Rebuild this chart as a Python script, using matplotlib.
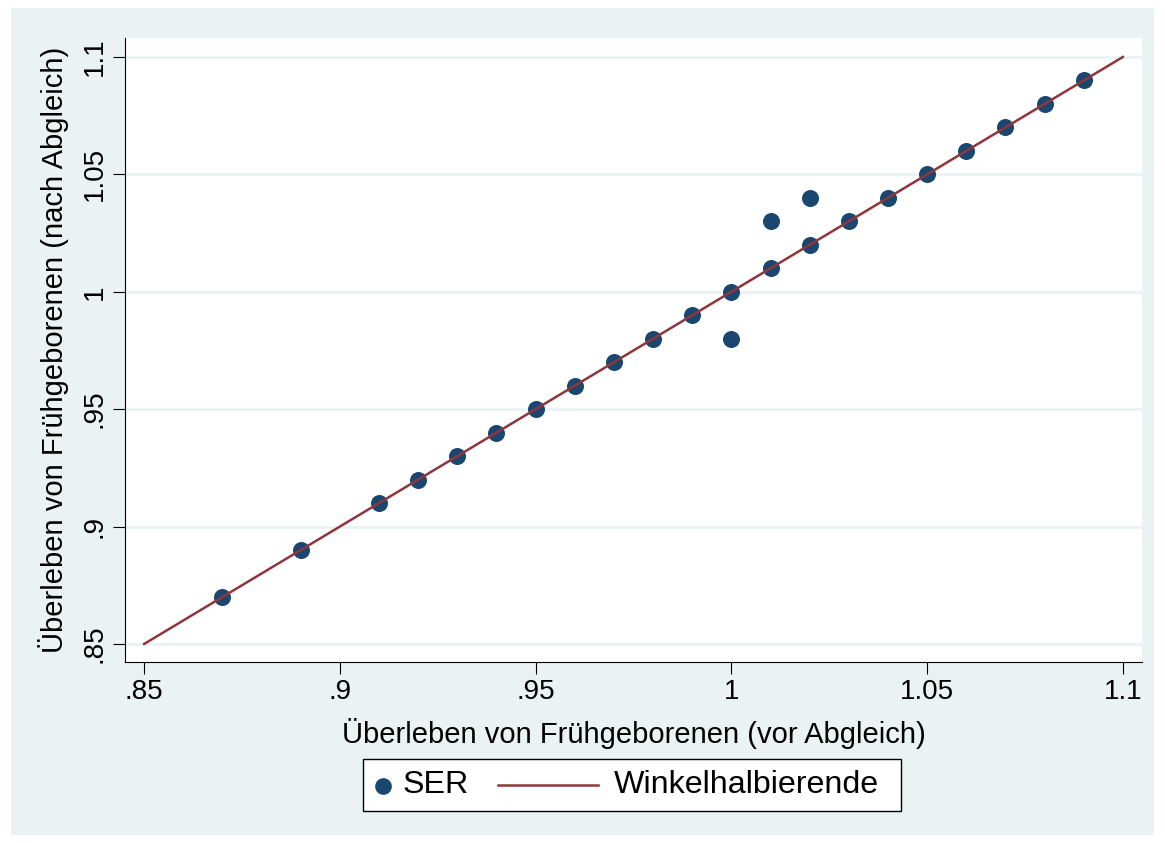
import numpy as np
import matplotlib
matplotlib.use('Agg')
import matplotlib.pyplot as plt
from matplotlib.patches import Rectangle
from matplotlib.lines import Line2D

# data
ser_before = [0.87, 0.89, 0.91, 0.92, 0.93, 0.94, 0.95, 0.96, 0.97, 0.98, 0.99,
              1.00, 1.00, 1.01, 1.01, 1.02, 1.02, 1.03, 1.04, 1.05, 1.06, 1.07,
              1.08, 1.09]
ser_after = [0.87, 0.89, 0.91, 0.92, 0.93, 0.94, 0.95, 0.96, 0.97, 0.98, 0.99,
             1.00, 0.98, 1.01, 1.03, 1.02, 1.04, 1.03, 1.04, 1.05, 1.06, 1.07,
             1.08, 1.09]
diag = [0.85, 1.1]
ticks = [0.85, 0.9, 0.95, 1.0, 1.05, 1.1]
tick_labels = ['.85', '.9', '.95', '1', '1.05', '1.1']

bg = '#eaf2f3'
marker_col = '#1a476f'
line_col = '#90353b'

plt.rcParams['font.family'] = ['Liberation Sans', 'DejaVu Sans']

W, H = 1165, 843
fig = plt.figure(figsize=(W / 100, H / 100), dpi=100)
fig.patch.set_facecolor('white')

# outer graph region (light blue-grey)
bax = fig.add_axes([0, 0, 1, 1], zorder=-1)
bax.set_xlim(0, W)
bax.set_ylim(H, 0)
bax.axis('off')
bax.add_patch(Rectangle((11, 8), W - 22, H - 16, facecolor=bg, edgecolor='none'))

ax = fig.add_axes([125 / W, (H - 662) / H, 1017 / W, 624 / H], zorder=1)
ax.set_facecolor('white')

ax.scatter(ser_before, ser_after, s=150, color=marker_col, zorder=3, linewidths=0)
ax.plot(diag, diag, color=line_col, lw=1.8, zorder=4)

ax.set_xlim(0.8451, 1.1049)
ax.set_ylim(0.8423, 1.1081)
ax.set_xticks(ticks)
ax.set_xticklabels(tick_labels)
ax.set_yticks(ticks)
ax.set_yticklabels(tick_labels, rotation=90, va='center')
ax.tick_params(direction='out', length=8.5, width=0.8, labelsize=20, pad=4)
ax.yaxis.grid(True, color=bg, lw=2)
ax.set_axisbelow(True)
for side in ['top', 'right']:
    ax.spines[side].set_visible(False)
for side in ['left', 'bottom']:
    ax.spines[side].set_linewidth(0.8)

ax.set_xlabel('Überleben von Frühgeborenen (vor Abgleich)', fontsize=21, labelpad=9)
ax.set_ylabel('Überleben von Frühgeborenen (nach Abgleich)', fontsize=21, labelpad=9)

# legend box drawn in pixel coords
lax = fig.add_axes([0, 0, 1, 1], zorder=2)
lax.set_xlim(0, W)
lax.set_ylim(H, 0)
lax.axis('off')
lax.add_patch(Rectangle((363, 759), 538, 52, facecolor='white', edgecolor='black', lw=1.0))
lax.plot([383], [786], 'o', color=marker_col, ms=11)
lax.text(403, 785, 'SER', fontsize=23.2, va='center', ha='left')
lax.add_line(Line2D([498, 598], [785, 785], color=line_col, lw=1.8))
lax.text(614, 785, 'Winkelhalbierende', fontsize=23.2, va='center', ha='left')

fig.savefig('out.png', dpi=100)
